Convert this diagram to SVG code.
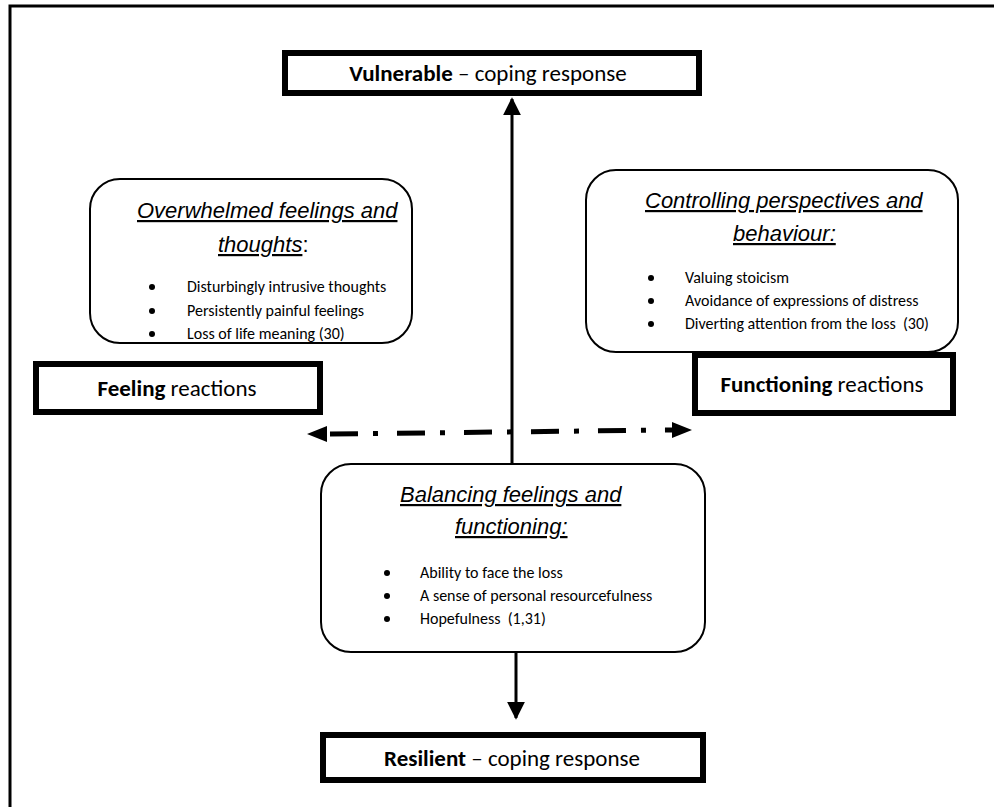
<svg xmlns="http://www.w3.org/2000/svg" width="994" height="807" viewBox="0 0 994 807">
<style>
.thick{fill:#fff;stroke:#000;stroke-width:6}
.round{fill:#fff;stroke:#000;stroke-width:2}
.lbl{font-family:Carlito,Lato,"Liberation Sans",sans-serif;font-size:23px;fill:#000}
.b{font-weight:bold}
.ttl{font-family:"Liberation Sans",Arial,sans-serif;font-size:22px;font-style:italic;fill:#000}
.u{text-decoration:underline}
.n{font-style:normal}
.bul{font-family:Carlito,Lato,"Liberation Sans",sans-serif;font-size:16px;fill:#000}
.line{stroke:#000;stroke-width:3;fill:none}
.dash{stroke:#000;stroke-width:5;fill:none;stroke-dasharray:28 15 5 19}
</style>
<defs>
<marker id="ah" viewBox="0 0 10 10" refX="9" refY="5" markerWidth="6" markerHeight="6" markerUnits="strokeWidth" orient="auto-start-reverse">
<path d="M0,0 L10,5 L0,10 z" fill="#000"/>
</marker>
</defs>
<path d="M10,807 V6 H994" fill="none" stroke="#000" stroke-width="3"/>
<g id="connectors">
<line class="line" x1="512" y1="464" x2="512" y2="99" marker-end="url(#ah)"/>
<line class="line" x1="516" y1="652" x2="516" y2="718" marker-end="url(#ah)"/>
<line class="dash" x1="330" y1="434" x2="672" y2="430"/>
<path d="M307,434 L327,426 L327,442 z" fill="#000"/>
<path d="M692,430 L672,422 L672,438 z" fill="#000"/>
</g>
<g id="vulnerable">
<rect class="thick" x="285" y="53" width="414" height="40"/>
<text class="lbl" x="488" y="81" text-anchor="middle"><tspan class="b">Vulnerable</tspan> – coping response</text>
</g>
<g id="overwhelmed">
<rect class="round" x="90" y="179" width="322" height="164" rx="30"/>
<text class="ttl" x="137" y="218"><tspan class="u">Overwhelmed feelings and</tspan></text>
<text class="ttl" x="218" y="252"><tspan class="u">thoughts</tspan><tspan class="n">:</tspan></text>
<circle cx="152" cy="287" r="3"/><text class="bul" x="187" y="292">Disturbingly intrusive thoughts</text>
<circle cx="152" cy="311" r="3"/><text class="bul" x="187" y="316">Persistently painful feelings</text>
<circle cx="152" cy="334" r="3"/><text class="bul" x="187" y="339">Loss of life meaning (30)</text>
</g>
<g id="controlling">
<rect class="round" x="586" y="170" width="372" height="182" rx="30"/>
<text class="ttl" x="645" y="208"><tspan class="u">Controlling perspectives and</tspan></text>
<text class="ttl" x="733" y="241"><tspan class="u">behaviour:</tspan></text>
<circle cx="651" cy="278" r="3"/><text class="bul" x="685" y="283">Valuing stoicism</text>
<circle cx="651" cy="301" r="3"/><text class="bul" x="685" y="306">Avoidance of expressions of distress</text>
<circle cx="651" cy="324" r="3"/><text class="bul" x="685" y="329" xml:space="preserve">Diverting attention from the loss  (30)</text>
</g>
<g id="feeling">
<rect class="thick" x="36" y="364" width="284" height="48"/>
<text class="lbl" x="177" y="396" text-anchor="middle"><tspan class="b">Feeling</tspan> reactions</text>
</g>
<g id="functioning">
<rect class="thick" x="695" y="355" width="258" height="58"/>
<text class="lbl" x="822" y="392" text-anchor="middle"><tspan class="b">Functioning</tspan> reactions</text>
</g>
<g id="balancing">
<rect class="round" x="321" y="464" width="384" height="188" rx="30"/>
<text class="ttl" x="400" y="502"><tspan class="u">Balancing feelings and</tspan></text>
<text class="ttl" x="455" y="534"><tspan class="u">functioning:</tspan></text>
<circle cx="387" cy="573" r="3"/><text class="bul" x="420" y="578">Ability to face the loss</text>
<circle cx="387" cy="596" r="3"/><text class="bul" x="420" y="601">A sense of personal resourcefulness</text>
<circle cx="387" cy="619" r="3"/><text class="bul" x="420" y="624" xml:space="preserve">Hopefulness  (1,31)</text>
</g>
<g id="resilient">
<rect class="thick" x="323" y="735" width="380" height="45"/>
<text class="lbl" x="512" y="766" text-anchor="middle"><tspan class="b">Resilient</tspan> – coping response</text>
</g>
</svg>
